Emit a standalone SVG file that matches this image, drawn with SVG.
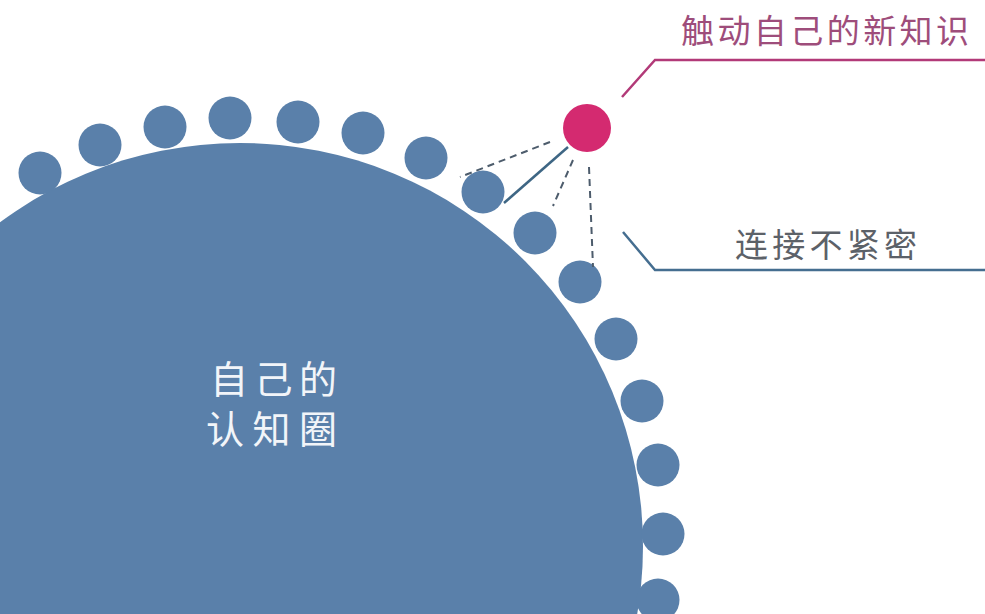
<svg xmlns="http://www.w3.org/2000/svg" width="985" height="614" viewBox="0 0 985 614">
<defs>
<style>
.blue{fill:#5a80aa}
.dot{fill:#5a80aa}
.cjk{font-family:"Noto Sans CJK SC","Noto Sans",sans-serif}
.dash{stroke:#4d5c6c;stroke-width:2;stroke-dasharray:7 5;fill:none}
</style>
</defs>
<rect width="985" height="614" fill="#ffffff"/>
<g id="circle">
<circle class="blue" cx="240" cy="546" r="403"/>
<text class="cjk" x="210" y="393" font-size="38" fill="#f2f5f9" textLength="127" lengthAdjust="spacing">自己的</text>
<text class="cjk" x="206" y="443" font-size="38" fill="#f2f5f9" textLength="131" lengthAdjust="spacing">认知圈</text>
</g>
<g id="dots">
<circle class="dot" cx="40" cy="173" r="21.5"/>
<circle class="dot" cx="100" cy="145" r="21.5"/>
<circle class="dot" cx="165" cy="127" r="21.5"/>
<circle class="dot" cx="230" cy="118" r="21.5"/>
<circle class="dot" cx="298" cy="122" r="21.5"/>
<circle class="dot" cx="363" cy="133" r="21.5"/>
<circle class="dot" cx="426" cy="158" r="21.5"/>
<circle class="dot" cx="483" cy="192" r="21.5"/>
<circle class="dot" cx="535" cy="233" r="21.5"/>
<circle class="dot" cx="580" cy="282" r="21.5"/>
<circle class="dot" cx="616" cy="339" r="21.5"/>
<circle class="dot" cx="642" cy="401" r="21.5"/>
<circle class="dot" cx="658" cy="465" r="21.5"/>
<circle class="dot" cx="663" cy="534" r="21.5"/>
<circle class="dot" cx="658" cy="600" r="21.5"/>
</g>
<g id="connectors">
<line class="dash" x1="550" y1="142" x2="460" y2="177"/>
<line x1="568" y1="147" x2="504" y2="203" stroke="#3e6684" stroke-width="2.5"/>
<line class="dash" x1="573" y1="160" x2="553" y2="206"/>
<line class="dash" x1="589" y1="167" x2="593" y2="267"/>
<polyline points="622,97 655,60 985,60" fill="none" stroke="#b23a78" stroke-width="2.5"/>
<polyline points="623,232 655,270 985,270" fill="none" stroke="#456e90" stroke-width="2.5"/>
</g>
<g id="new-knowledge">
<circle cx="587" cy="128" r="24" fill="#d42a70"/>
</g>
<g id="label-new">
<text class="cjk" x="681" y="43" font-size="33" fill="#9e4d7b" textLength="288" lengthAdjust="spacing">触动自己的新知识</text>
</g>
<g id="label-loose">
<text class="cjk" x="735" y="257" font-size="33" fill="#5c6168" textLength="182" lengthAdjust="spacing">连接不紧密</text>
</g>
</svg>
